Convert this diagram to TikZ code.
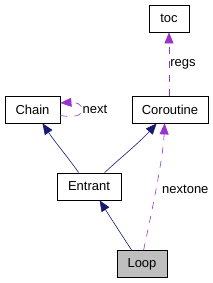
\documentclass[tikz,border=0pt]{standalone}
\usepackage{fontspec}
\setmainfont{Liberation Sans}
\usetikzlibrary{arrows.meta}
\definecolor{navyedge}{HTML}{191970}
\definecolor{purpedge}{HTML}{9A32CD}
\definecolor{loopfill}{HTML}{BFBFBF}
\begin{document}
\begin{tikzpicture}[x=1pt,y=-1pt,
  cls/.style={draw=black,line width=0.8pt,fill=white,minimum height=27pt,inner sep=0pt,font=\fontsize{13}{14}\selectfont},
  inh/.style={draw=navyedge,line width=0.6pt,-{Triangle[length=11pt,width=9pt,fill=navyedge]}},
  use/.style={draw=purpedge,line width=0.6pt,dash pattern=on 7pt off 7pt,-{Triangle[length=11pt,width=9pt,fill=purpedge]}},
  lbl/.style={font=\fontsize{13}{14}\selectfont,inner sep=0pt}]
\useasboundingbox (0,0) rectangle (212,283);
\node[cls,minimum width=40pt] (toc) at (169,18.5) {toc};
\node[cls,minimum width=55pt] (chain) at (32.5,109.5) {Chain};
\node[cls,minimum width=76pt] (corout) at (170,109.5) {Coroutine};
\node[cls,minimum width=64pt] (entrant) at (89,186.5) {Entrant};
\node[cls,minimum width=50pt,fill=loopfill] (loop) at (142,264) {Loop};
% inheritance
\draw[inh] ([xshift=22pt]entrant.north west) .. controls (70,160) and (55,142) .. ([xshift=10pt]chain.south);
\draw[inh] ([xshift=48pt]entrant.north west) .. controls (118,160) and (140,142) .. ([xshift=25pt]corout.south west);
\draw[inh] ([xshift=15pt]loop.north west) .. controls (125,240) and (112,220) .. ([xshift=43pt]entrant.south west);
% usage
\draw[use] ([xshift=27pt]loop.north west) .. controls (150,220) and (163,160) .. ([xshift=33pt]corout.south west) node[pos=0.5,right=6pt,lbl] (nl) {nextone};
\draw[use] ([xshift=-1pt]corout.north) -- (toc.south) node[pos=0.5,right=1pt,lbl] (rl) {regs};
\coordinate (lp) at (82,110);
\draw[use] ([yshift=-6pt]chain.east) .. controls (76,118) and (82,115) .. (lp) .. controls (82,104) and (76,102) .. ([yshift=6.5pt]chain.east);
\node[lbl,anchor=west] (nx) at (82.5,109.5) {next};
\end{tikzpicture}
\end{document}
